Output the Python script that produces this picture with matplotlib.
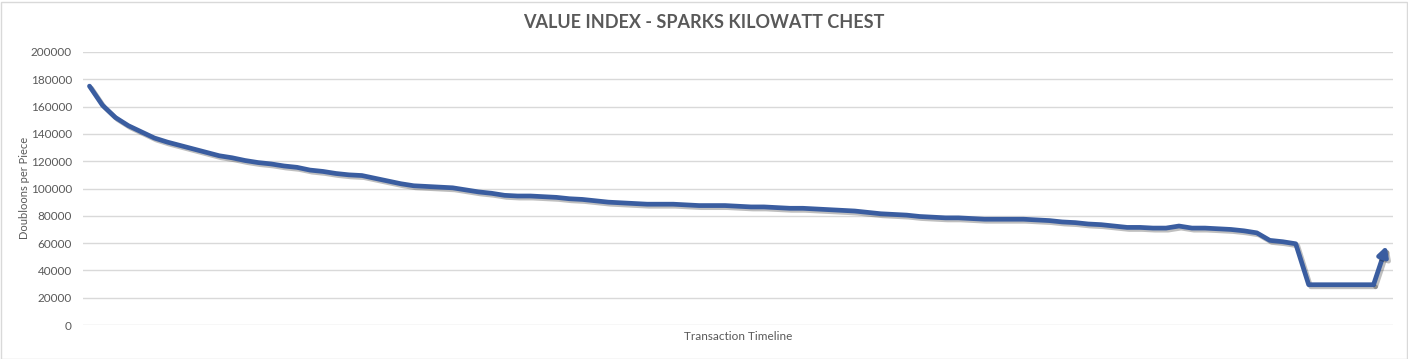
import matplotlib.pyplot as plt
import matplotlib.patheffects as pe
from matplotlib.patches import Rectangle
import numpy as np

# Data (doubloons per piece, one value per transaction)
values = [
    175000, 161000, 152000, 146000, 141500, 137000, 134000, 131500, 129000, 126500,
    124000, 122500, 120500, 119000, 118000, 116500, 115500, 113500, 112500, 111000,
    110000, 109500, 107500, 105500, 103500, 102000, 101500, 101000, 100500, 99000,
    97500, 96500, 95000, 94500, 94500, 94000, 93500, 92500, 92000, 91000,
    90000, 89500, 89000, 88500, 88500, 88500, 88000, 87500, 87500, 87500,
    87000, 86500, 86500, 86000, 85500, 85500, 85000, 84500, 84000, 83500,
    82500, 81500, 81000, 80500, 79500, 79000, 78500, 78500, 78000, 77500,
    77500, 77500, 77500, 77000, 76500, 75500, 75000, 74000, 73500, 72500,
    71500, 71500, 71000, 71000, 72500, 71000, 71000, 70500, 70000, 69000,
    67500, 62000, 61000, 59500, 29500, 29500, 29500, 29500, 29500, 29500,
    58000,
]
y_ticks = [0, 20000, 40000, 60000, 80000, 100000, 120000, 140000, 160000, 180000, 200000]

title = "VALUE INDEX - SPARKS KILOWATT CHEST"
x_label = "Transaction Timeline"
y_label = "Doubloons per Piece"

text_color = "#595959"
line_color = "#3a5da0"
grid_color = "#d9d9d9"

plt.rcParams['font.family'] = ['Lato', 'DejaVu Sans']

fig = plt.figure(figsize=(14.08, 3.59), dpi=100)
fig.patches.append(Rectangle((0.5 / 1408, 0.5 / 359), 1 - 2 / 1408, 1 - 2 / 359,
                             transform=fig.transFigure, fill=False,
                             edgecolor="#d9d9d9", linewidth=1))

ax = fig.add_axes([83 / 1408, 34 / 359, 1310 / 1408, 273 / 359])
x = np.arange(len(values))

shadow = [pe.SimpleLineShadow(offset=(1.5, -1.5), shadow_color="black", alpha=0.25), pe.Normal()]
ax.plot(x[:-1], values[:-1], color=line_color, linewidth=3.4,
        solid_capstyle="round", solid_joinstyle="round", path_effects=shadow)
ax.annotate("", xy=(x[-1], values[-1]), xytext=(x[-2], values[-2]),
            arrowprops=dict(arrowstyle="-|>,head_length=0.55,head_width=0.3",
                            color=line_color, linewidth=3.4, shrinkA=0, shrinkB=0,
                            path_effects=shadow))

ax.set_xlim(-0.5, len(values) - 0.5)
ax.set_ylim(0, 200000)
ax.set_yticks(y_ticks)
ax.set_yticklabels([str(v) for v in y_ticks])
ax.set_xticks([])
ax.tick_params(axis="y", length=0, pad=8, labelsize=8.5, labelcolor=text_color)
for s in ax.spines.values():
    s.set_visible(False)
ax.grid(axis="y", color=grid_color, linewidth=1)
ax.set_axisbelow(True)

ax.set_xlabel(x_label, fontsize=8.5, color=text_color, labelpad=4)
fig.text(25 / 1408, 1 - 188 / 359, y_label, rotation=90, fontsize=8,
         color=text_color, ha="center", va="center")
fig.text(0.5, 1 - 23 / 359, title, fontsize=13, fontweight="bold",
         color=text_color, ha="center", va="center")

fig.savefig("out.png", dpi=100)
